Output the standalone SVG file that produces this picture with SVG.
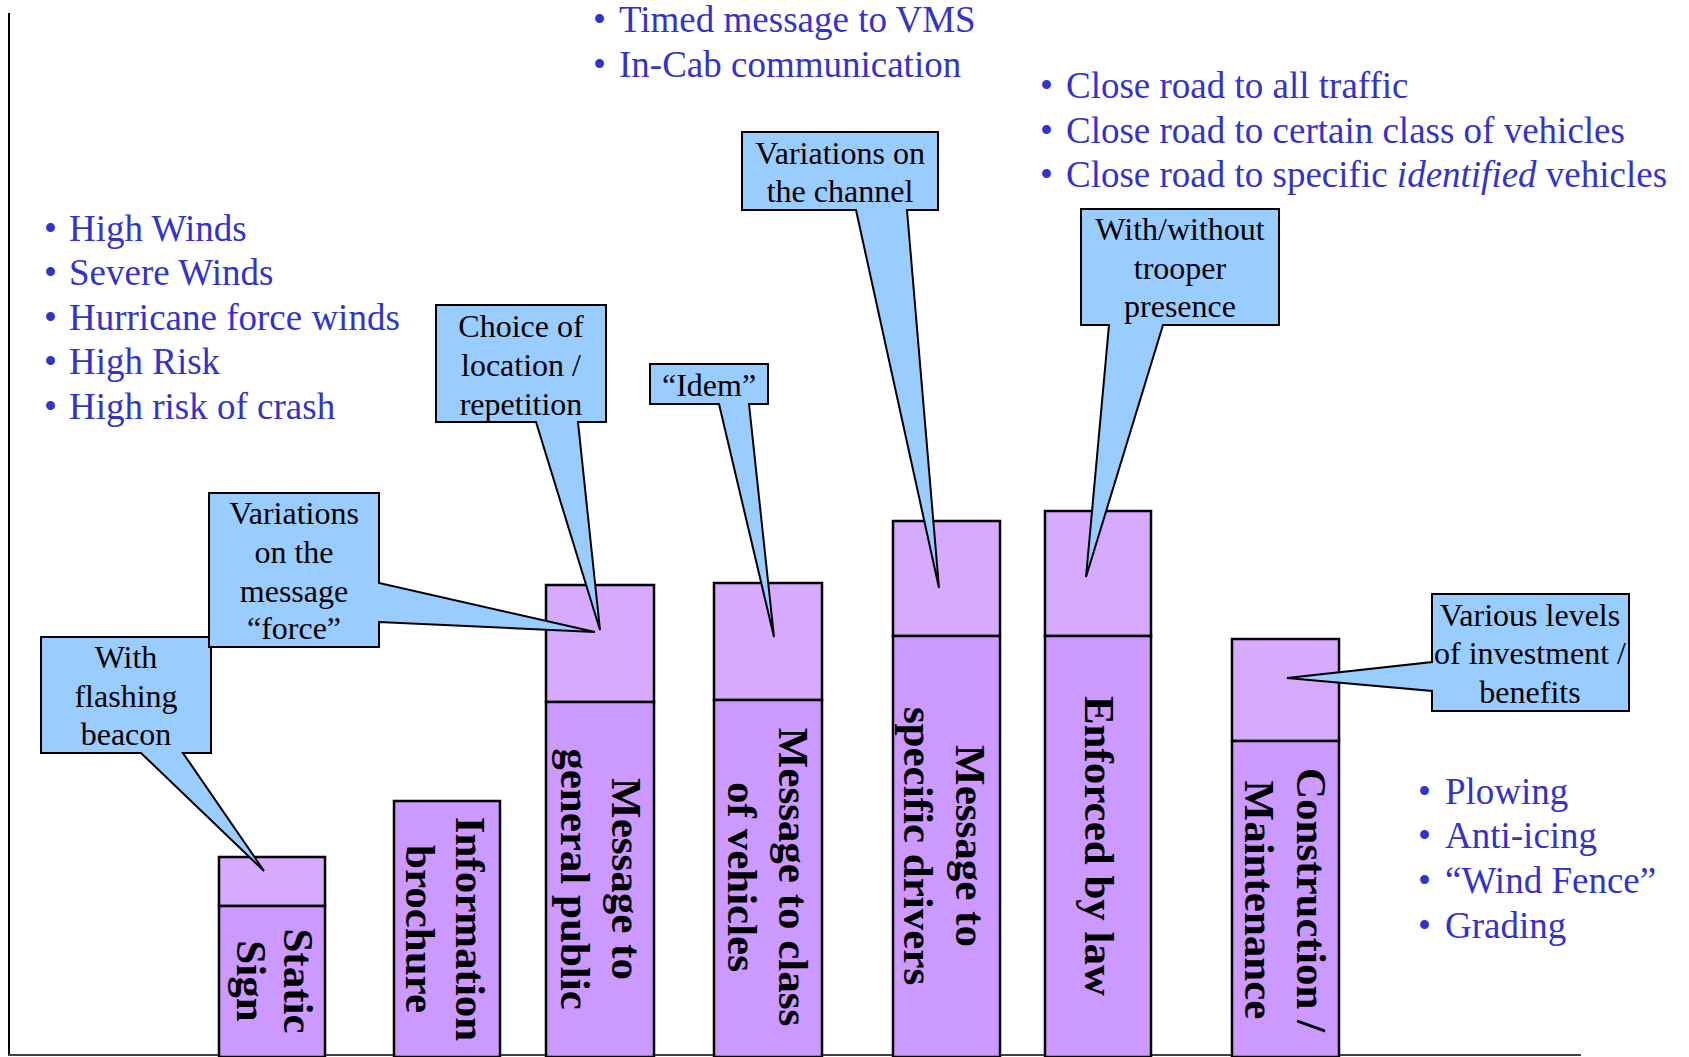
<svg xmlns="http://www.w3.org/2000/svg" width="1689" height="1057" viewBox="0 0 1689 1057">
<style>
text{font-family:"Liberation Serif","Times New Roman",serif}
.bl{font-size:37px;fill:#3333CC}
.co{fill:#99CCFF;stroke:#000;stroke-width:2;stroke-linejoin:miter}
.ct{font-size:32px;fill:#000;text-anchor:middle}
.top{fill:#D5AAFF;stroke:#000;stroke-width:2.5}
.bot{fill:#CC99FF;stroke:#000;stroke-width:2.5}
.bt{font-size:43px;font-weight:bold;fill:#000;text-anchor:middle}
.ax{stroke:#000;stroke-width:2;fill:none}
</style>
<rect width="1689" height="1057" fill="#fff"/>

<g id="axes">
<line class="ax" x1="9" y1="13" x2="9" y2="1055"/>
<line x1="8" y1="1055" x2="1581" y2="1055" stroke="#404040" stroke-width="2"/>
</g>

<g id="bar-static-sign">
<rect class="top" x="219" y="857" width="106" height="49"/>
<rect class="bot" x="219" y="906" width="106" height="151"/>
<text class="bt" transform="translate(284,981) rotate(90)">Static</text>
<text class="bt" transform="translate(237,981) rotate(90)">Sign</text>
</g>

<g id="bar-information-brochure">
<rect class="bot" x="394" y="801" width="106" height="256"/>
<text class="bt" transform="translate(456,929) rotate(90)">Information</text>
<text class="bt" transform="translate(406,929) rotate(90)">brochure</text>
</g>

<g id="bar-general-public">
<rect class="top" x="546" y="585" width="108" height="117"/>
<rect class="bot" x="546" y="702" width="108" height="355"/>
<text class="bt" transform="translate(612,879) rotate(90)">Message to</text>
<text class="bt" transform="translate(561,879) rotate(90)">general public</text>
</g>

<g id="bar-class-of-vehicles">
<rect class="top" x="714" y="583" width="108" height="117"/>
<rect class="bot" x="714" y="700" width="108" height="357"/>
<text class="bt" transform="translate(779,877) rotate(90)">Message to class</text>
<text class="bt" transform="translate(728,877) rotate(90)">of vehicles</text>
</g>

<g id="bar-specific-drivers">
<rect class="top" x="893" y="521" width="107" height="115"/>
<rect class="bot" x="893" y="636" width="107" height="421"/>
<text class="bt" transform="translate(956,846) rotate(90)">Message to</text>
<text class="bt" transform="translate(904,846) rotate(90)">specific drivers</text>
</g>

<g id="bar-enforced-by-law">
<rect class="top" x="1045" y="511" width="106" height="125"/>
<rect class="bot" x="1045" y="636" width="106" height="421"/>
<text class="bt" transform="translate(1085,846) rotate(90)">Enforced by law</text>
</g>

<g id="bar-construction">
<rect class="top" x="1232" y="639" width="107" height="102"/>
<rect class="bot" x="1232" y="741" width="107" height="316"/>
<text class="bt" transform="translate(1297,900) rotate(90)">Construction /</text>
<text class="bt" transform="translate(1245,900) rotate(90)">Maintenance</text>
</g>

<g id="callout-flashing-beacon">
<path class="co" d="M41,637 H211 V753 H183 L264,871 L141,753 H41 Z"/>
<text class="ct" x="126" y="668">With</text>
<text class="ct" x="126" y="707">flashing</text>
<text class="ct" x="126" y="745">beacon</text>
</g>

<g id="callout-message-force">
<path class="co" d="M209,493 H379 V583 L595,632 L379,622 V647 H209 Z"/>
<text class="ct" x="294" y="524">Variations</text>
<text class="ct" x="294" y="563">on the</text>
<text class="ct" x="294" y="602">message</text>
<text class="ct" x="294" y="639">“force”</text>
</g>

<g id="callout-location">
<path class="co" d="M436,305 H606 V422 H578 L600,630 L536,422 H436 Z"/>
<text class="ct" x="521" y="337">Choice of</text>
<text class="ct" x="521" y="376">location /</text>
<text class="ct" x="521" y="415">repetition</text>
</g>

<g id="callout-idem">
<path class="co" d="M650,364 H768 V404 H749 L774,637 L719,404 H650 Z"/>
<text class="ct" x="709" y="396">“Idem”</text>
</g>

<g id="callout-channel">
<path class="co" d="M742,132 H938 V210 H907 L939,588 L856,210 H742 Z"/>
<text class="ct" x="840" y="164">Variations on</text>
<text class="ct" x="840" y="202">the channel</text>
</g>

<g id="callout-trooper">
<path class="co" d="M1081,209 H1279 V325 H1163 L1086,577 L1109,325 H1081 Z"/>
<text class="ct" x="1180" y="240">With/without</text>
<text class="ct" x="1180" y="279">trooper</text>
<text class="ct" x="1180" y="317">presence</text>
</g>

<g id="callout-investment">
<path class="co" d="M1432,594 H1629 V711 H1432 V691 L1287,678 L1432,662 Z"/>
<text class="ct" x="1530" y="626">Various levels</text>
<text class="ct" x="1530" y="664">of investment /</text>
<text class="ct" x="1530" y="703">benefits</text>
</g>

<g id="list-winds" class="bl">
<text y="241"><tspan x="44">•</tspan><tspan x="69">High Winds</tspan></text>
<text y="285"><tspan x="44">•</tspan><tspan x="69">Severe Winds</tspan></text>
<text y="330"><tspan x="44">•</tspan><tspan x="69">Hurricane force winds</tspan></text>
<text y="374"><tspan x="44">•</tspan><tspan x="69">High Risk</tspan></text>
<text y="419"><tspan x="44">•</tspan><tspan x="69">High risk of crash</tspan></text>
</g>

<g id="list-vms" class="bl">
<text y="32"><tspan x="593">•</tspan><tspan x="619">Timed message to VMS</tspan></text>
<text y="77"><tspan x="593">•</tspan><tspan x="619">In-Cab communication</tspan></text>
</g>

<g id="list-close-road" class="bl">
<text y="98"><tspan x="1040">•</tspan><tspan x="1066">Close road to all traffic</tspan></text>
<text y="143"><tspan x="1040">•</tspan><tspan x="1066">Close road to certain class of vehicles</tspan></text>
<text y="187"><tspan x="1040">•</tspan><tspan x="1066">Close road to specific <tspan font-style="italic">identified</tspan> vehicles</tspan></text>
</g>

<g id="list-maintenance" class="bl">
<text y="804"><tspan x="1418">•</tspan><tspan x="1445">Plowing</tspan></text>
<text y="848"><tspan x="1418">•</tspan><tspan x="1445">Anti-icing</tspan></text>
<text y="893"><tspan x="1418">•</tspan><tspan x="1445">“Wind Fence”</tspan></text>
<text y="938"><tspan x="1418">•</tspan><tspan x="1445">Grading</tspan></text>
</g>
</svg>
